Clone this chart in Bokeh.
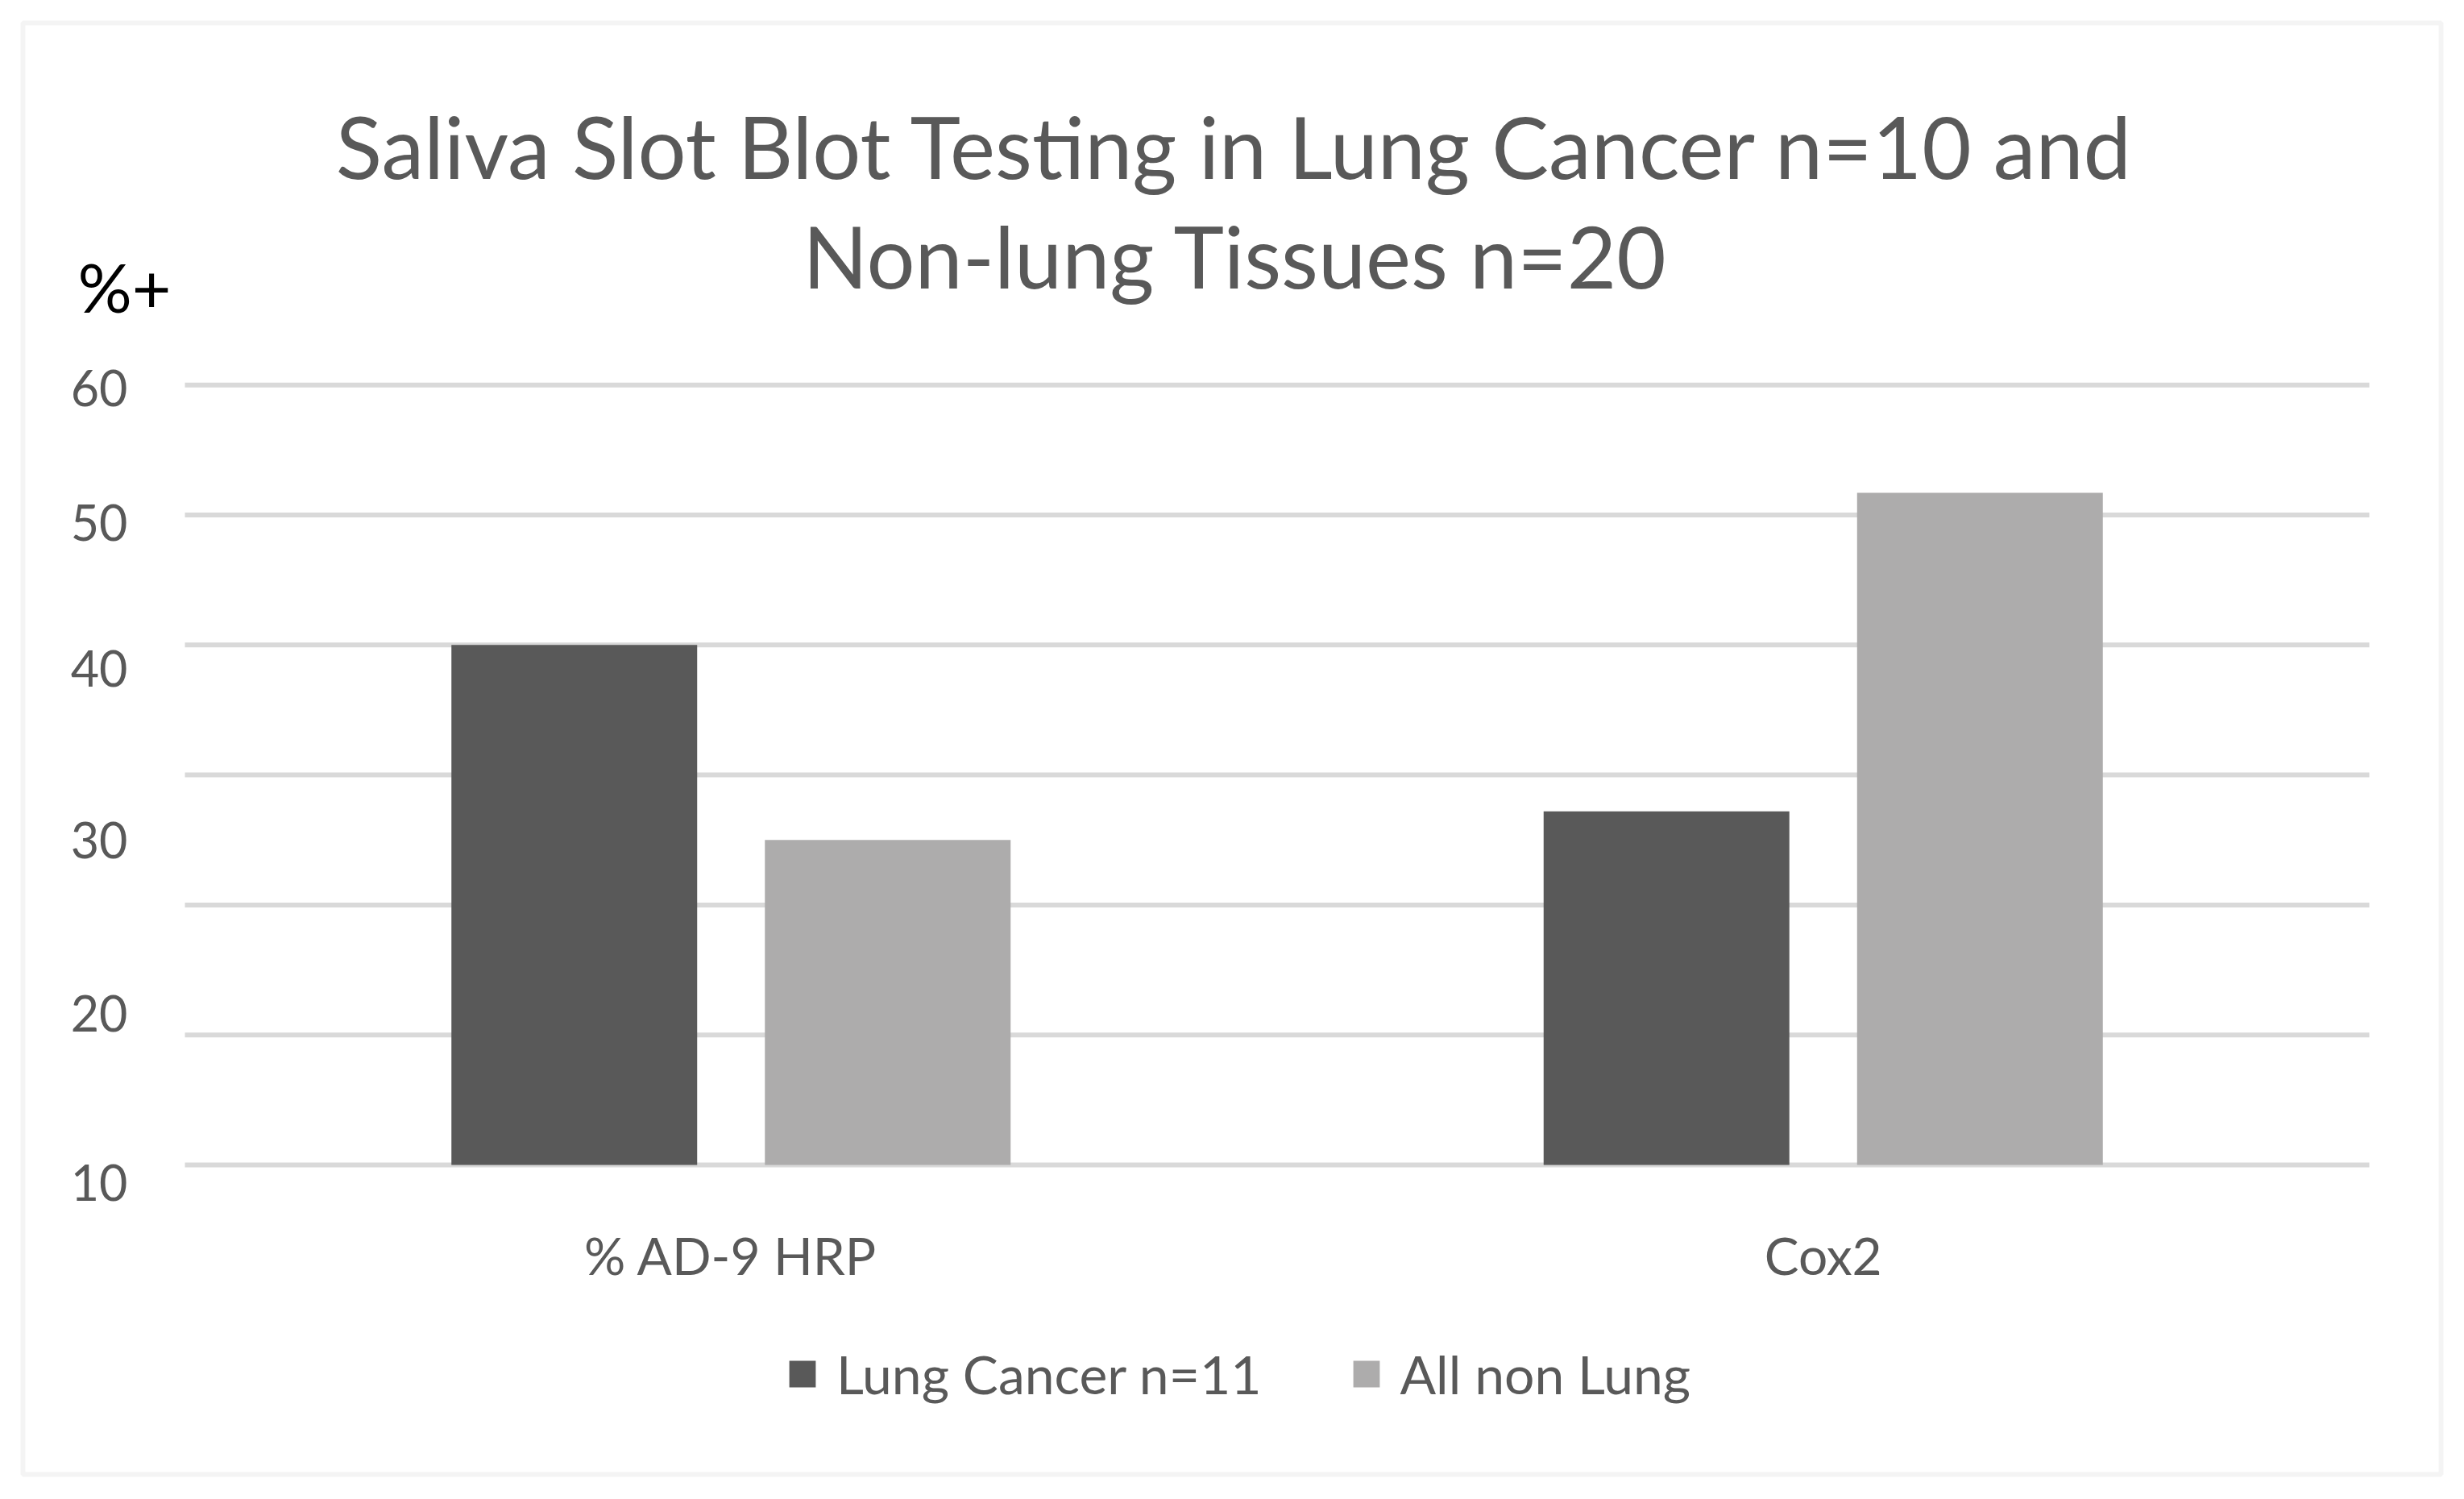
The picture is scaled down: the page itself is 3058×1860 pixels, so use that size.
from bokeh.plotting import figure
from bokeh.models import (Range1d, Label, Legend, LegendItem, BoxAnnotation, ColumnDataSource)
from bokeh.core.properties import value
from bokeh.embed import file_html
from bokeh.resources import INLINE

# ---- data ----
categories = ["% AD-9 HRP", "Cox2"]
lung_cancer = [40.0, 27.2]
all_non_lung = [25.0, 51.7]
series_names = ["Lung Cancer n=11", "All non Lung"]
title_lines = ["Saliva Slot Blot Testing in Lung Cancer n=10 and", "Non-lung Tissues n=20"]
y_unit_label = "%+"
grid_values = [0, 10, 20, 30, 40, 50, 60]
tick_labels = ["60", "50", "40", "30", "20", "10"]
tick_label_positions = [59.75, 49.4, 38.2, 25.0, 11.65, -1.36]

DARK = "#595959"
LIGHT = "#adacac"
GRID = "#d9d9d9"
TXT = "#595959"

W, H = 3042, 1844
ncat = len(categories)
cat_x = [i + 0.5 for i in range(ncat)]
BAR_W = 0.225
OFF = 0.1435

# plotting area is the full canvas; category axis 0..ncat occupies pixels 229..2940
AREA_L, AREA_R, ZERO_Y = 229, 2940, 1445
px_per_cat = (AREA_R - AREA_L) / ncat
x_start = -AREA_L / px_per_cat
x_end = ncat + (W - AREA_R) / px_per_cat
px_per_unit = 16.13
y_end = ZERO_Y / px_per_unit
y_start = -(H - ZERO_Y) / px_per_unit

src = ColumnDataSource(dict(x1=[c - OFF for c in cat_x], x2=[c + OFF for c in cat_x],
                            lung=lung_cancer, nonlung=all_non_lung))

p = figure(width=W, height=H, x_range=Range1d(x_start, x_end), y_range=Range1d(y_start, y_end),
           output_backend="svg", toolbar_location=None,
           min_border_left=0, min_border_right=0, min_border_top=0, min_border_bottom=0)
p.axis.visible = False
p.grid.visible = False
p.outline_line_color = None
p.background_fill_color = "white"
p.border_fill_color = "white"

# gridlines across the category area
p.segment(x0=[0] * len(grid_values), x1=[ncat] * len(grid_values), y0=grid_values, y1=grid_values,
          line_color=GRID, line_width=6)

r1 = p.vbar(x="x1", top="lung", bottom=0, width=BAR_W, source=src, fill_color=DARK, line_color=None)
r2 = p.vbar(x="x2", top="nonlung", bottom=0, width=BAR_W, source=src, fill_color=LIGHT, line_color=None)

# value tick labels
for lab, pos in zip(tick_labels, tick_label_positions):
    p.add_layout(Label(x=158, y=pos, x_units="screen", y_units="data", text=lab,
                       text_font="Lato", text_font_size="61px", text_color=TXT,
                       text_align="right", text_baseline="middle"))

# category labels
p.text(x=cat_x, y=[0] * ncat, text=categories, y_offset=112,
       text_font=value("Lato"), text_font_size="64px", text_color=TXT,
       text_align="center", text_baseline="middle")

# title lines
title_y = [H - 180, H - 316]
for line, ty in zip(title_lines, title_y):
    p.add_layout(Label(x=1533, y=ty, x_units="screen", y_units="screen", text=line,
                       text_font="Lato", text_font_size="106px", text_color=TXT,
                       text_align="center", text_baseline="middle"))

p.add_layout(Label(x=96, y=H - 355, x_units="screen", y_units="screen", text=y_unit_label,
                   text_font="Lato", text_font_size="84px",
                   text_color="black", text_align="left", text_baseline="middle"))

# legend
legend = Legend(items=[LegendItem(label=series_names[0], renderers=[r1]),
                       LegendItem(label=series_names[1], renderers=[r2])],
                location=(975, 100), orientation="horizontal",
                glyph_width=41, glyph_height=41, label_standoff=22, spacing=109,
                padding=0, margin=0, border_line_color=None, background_fill_alpha=0,
                label_text_font="Lato", label_text_font_size="66px", label_text_color=TXT)
p.add_layout(legend, "center")

# chart border
p.add_layout(BoxAnnotation(left=28, right=3029, top=H - 28, bottom=H - 1829,
                           left_units="screen", right_units="screen",
                           top_units="screen", bottom_units="screen",
                           fill_alpha=0, line_color=GRID, line_width=6))

open("out.html", "w").write(file_html(p, INLINE))
